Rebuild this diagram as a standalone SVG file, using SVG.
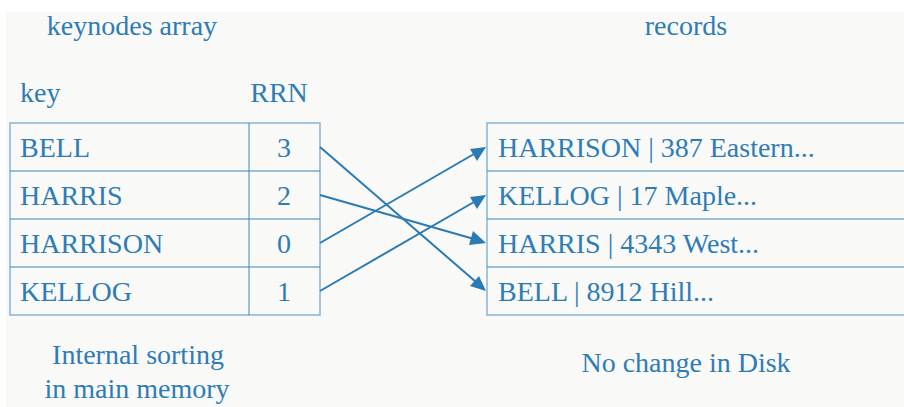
<svg xmlns="http://www.w3.org/2000/svg" width="904" height="407" viewBox="0 0 904 407">
<defs>
<style>
text{font-family:"Liberation Serif","DejaVu Serif",serif;font-size:28px;fill:#2e7cb6}
.c{text-anchor:middle}
.outer{fill:none;stroke:#86b4d8;stroke-width:1.5}
.inner{stroke:#3a84bc;stroke-width:1}
.arrow{stroke:#2a7ab5;stroke-width:2;fill:none}
.head{fill:#2a7ab5}
</style>
</defs>
<rect width="904" height="407" fill="#ffffff"/>
<rect x="6" y="12" width="898" height="395" fill="#f9f9f8"/>

<g id="titles">
<text class="c" x="132" y="35">keynodes array</text>
<text class="c" x="686" y="35">records</text>
<text x="20" y="102">key</text>
<text class="c" x="279" y="102">RRN</text>
</g>

<g id="keynodes">
<rect class="outer" x="10" y="123" width="310" height="192"/>
<line class="inner" x1="249" y1="123" x2="249" y2="315"/>
<line class="inner" x1="10" y1="171" x2="320" y2="171"/>
<line class="inner" x1="10" y1="219" x2="320" y2="219"/>
<line class="inner" x1="10" y1="267" x2="320" y2="267"/>
<g id="k-bell"><text x="20" y="157">BELL</text><text class="c" x="284" y="157">3</text></g>
<g id="k-harris"><text x="20" y="205">HARRIS</text><text class="c" x="284" y="205">2</text></g>
<g id="k-harrison"><text x="20" y="253">HARRISON</text><text class="c" x="284" y="253">0</text></g>
<g id="k-kellog"><text x="20" y="301">KELLOG</text><text class="c" x="284" y="301">1</text></g>
</g>

<g id="records">
<rect class="outer" x="487" y="123" width="430" height="192"/>
<line class="inner" x1="487" y1="171" x2="904" y2="171"/>
<line class="inner" x1="487" y1="219" x2="904" y2="219"/>
<line class="inner" x1="487" y1="267" x2="904" y2="267"/>
<g id="r-harrison"><text x="498" y="157">HARRISON | 387 Eastern...</text></g>
<g id="r-kellog"><text x="498" y="205">KELLOG | 17 Maple...</text></g>
<g id="r-harris"><text x="498" y="253">HARRIS | 4343 West...</text></g>
<g id="r-bell"><text x="498" y="301">BELL | 8912 Hill...</text></g>
</g>

<g id="connectors">
<line class="arrow" x1="320" y1="147" x2="476" y2="282"/>
<polygon class="head" points="486,291 470,286 479,276"/>
<line class="arrow" x1="320" y1="195" x2="474" y2="239"/>
<polygon class="head" points="486,243 469,245 473,231"/>
<line class="arrow" x1="320" y1="243" x2="474" y2="154"/>
<polygon class="head" points="486,147 477,161 470,149"/>
<line class="arrow" x1="320" y1="291" x2="474" y2="202"/>
<polygon class="head" points="486,195 477,209 470,197"/>
</g>

<g id="captions">
<text class="c" x="138" y="364">Internal sorting</text>
<text class="c" x="137" y="398">in main memory</text>
<text class="c" x="686" y="372">No change in Disk</text>
</g>
</svg>
